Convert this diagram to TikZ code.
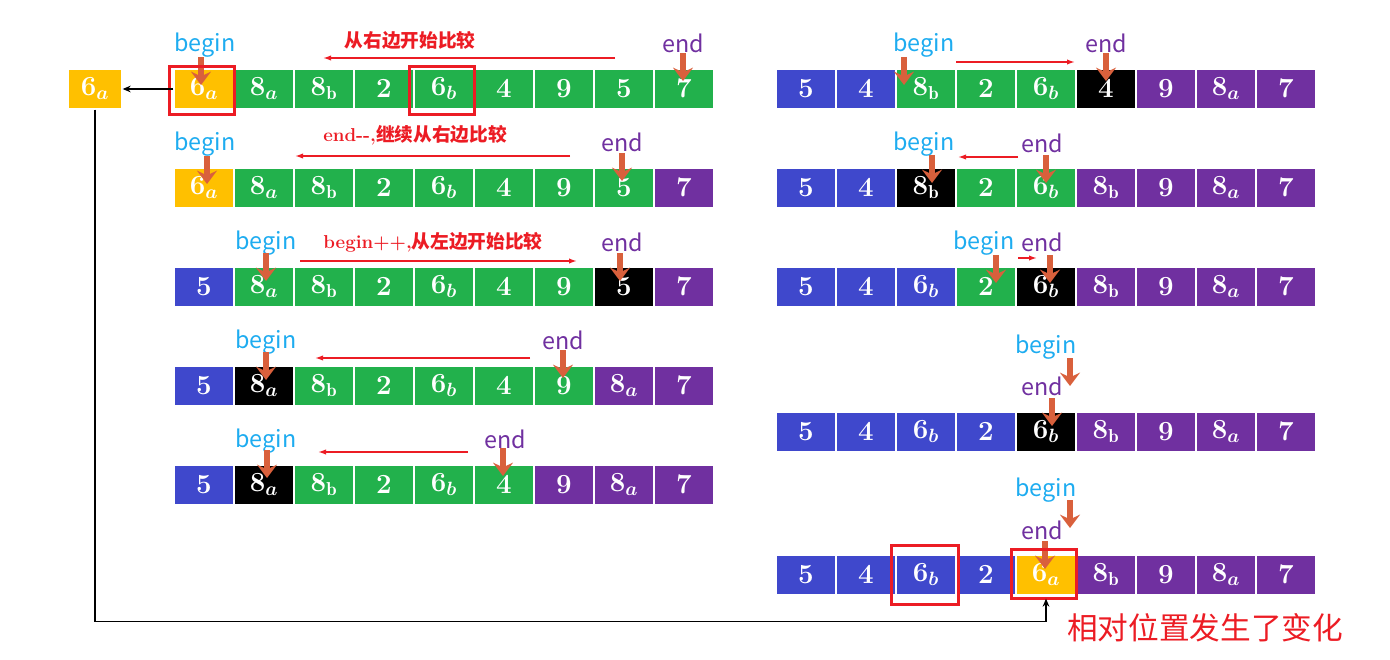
\documentclass[tikz,border=0pt]{standalone}
\usepackage{fontspec}
\newfontfamily\cjk{Noto Sans CJK SC}
\usetikzlibrary{arrows.meta}
\definecolor{cg}{RGB}{34,177,76}
\definecolor{cb}{RGB}{63,72,204}
\definecolor{cp}{RGB}{112,48,160}
\definecolor{cy}{RGB}{255,192,0}
\definecolor{ck}{RGB}{0,0,0}
\definecolor{cbegin}{RGB}{30,172,240}
\definecolor{cptr}{RGB}{217,96,60}
\definecolor{cred}{RGB}{236,28,36}
\tikzset{
  cell/.style={draw=white, line width=1pt, minimum width=45pt, minimum height=30pt,
    inner sep=0pt, text=white, font=\boldmath\fontsize{20}{20}\selectfont},
  lbegin/.style={text=cbegin, font=\cjk\fontsize{17.5}{18}\selectfont},
  lend/.style={text=cp, font=\cjk\fontsize{17.5}{18}\selectfont},
  ptr/.style={draw=cptr, line width=4pt, -{Stealth[width=15pt,length=10pt,inset=3.5pt]}},
  cmp/.style={draw=cred, line width=1.1pt, -{Latex[length=6pt,width=4pt]}},
  note/.style={text=cred, font=\bfseries\fontsize{14}{15}\selectfont},
  hl/.style={draw=cred, line width=2.6pt},
  link/.style={draw=black, line width=1.1pt, -{Stealth[length=6pt,width=5pt]}}
}
\begin{document}
\begin{tikzpicture}[x=0.75pt, y=-0.75pt, every node/.style={inner sep=0pt}]
    \useasboundingbox (0,0) rectangle (1390,660);
    % left column
    \foreach \v/\c [count=\i] in {6_a/cy,8_a/cg,8_\mathrm{b}/cg,2/cg,6_b/cg,4/cg,9/cg,5/cg,7/cg}
      \node[cell, fill=\c] (L1-\i) at (144+60*\i,89) {$\v$};
    \foreach \v/\c [count=\i] in {6_a/cy,8_a/cg,8_\mathrm{b}/cg,2/cg,6_b/cg,4/cg,9/cg,5/cg,7/cp}
      \node[cell, fill=\c] (L2-\i) at (144+60*\i,188) {$\v$};
    \foreach \v/\c [count=\i] in {5/cb,8_a/cg,8_\mathrm{b}/cg,2/cg,6_b/cg,4/cg,9/cg,5/ck,7/cp}
      \node[cell, fill=\c] (L3-\i) at (144+60*\i,287) {$\v$};
    \foreach \v/\c [count=\i] in {5/cb,8_a/ck,8_\mathrm{b}/cg,2/cg,6_b/cg,4/cg,9/cg,8_a/cp,7/cp}
      \node[cell, fill=\c] (L4-\i) at (144+60*\i,386) {$\v$};
    \foreach \v/\c [count=\i] in {5/cb,8_a/ck,8_\mathrm{b}/cg,2/cg,6_b/cg,4/cg,9/cp,8_a/cp,7/cp}
      \node[cell, fill=\c] (L5-\i) at (144+60*\i,485) {$\v$};
    % right column
    \foreach \v/\c [count=\i] in {5/cb,4/cb,8_\mathrm{b}/cg,2/cg,6_b/cg,4/ck,9/cp,8_a/cp,7/cp}
      \node[cell, fill=\c] (R1-\i) at (746+60*\i,89) {$\v$};
    \foreach \v/\c [count=\i] in {5/cb,4/cb,8_\mathrm{b}/ck,2/cg,6_b/cg,8_\mathrm{b}/cp,9/cp,8_a/cp,7/cp}
      \node[cell, fill=\c] (R2-\i) at (746+60*\i,188) {$\v$};
    \foreach \v/\c [count=\i] in {5/cb,4/cb,6_b/cb,2/cg,6_b/ck,8_\mathrm{b}/cp,9/cp,8_a/cp,7/cp}
      \node[cell, fill=\c] (R3-\i) at (746+60*\i,287) {$\v$};
    \foreach \v/\c [count=\i] in {5/cb,4/cb,6_b/cb,2/cb,6_b/ck,8_\mathrm{b}/cp,9/cp,8_a/cp,7/cp}
      \node[cell, fill=\c] (R4-\i) at (746+60*\i,432) {$\v$};
    \foreach \v/\c [count=\i] in {5/cb,4/cb,6_b/cb,2/cb,6_a/cy,8_\mathrm{b}/cp,9/cp,8_a/cp,7/cp}
      \node[cell, fill=\c] (R5-\i) at (746+60*\i,575) {$\v$};
    % the saved key
    \node[cell, fill=cy, minimum width=40.5pt] (key) at (95,89) {$6_a$};
    % begin / end labels
    \foreach \n/\x/\y in {L1/205/45, L2/205/144, L3/266/243, L4/266/342, L5/266/441,
        R1/924/45, R2/924/144, R3/984/243, R4/1046/347, R5/1046/490}
      \node[lbegin] (b\n) at (\x,\y) {begin};
    \foreach \n/\x/\y in {L1/683/43, L2/622/142, L3/622/242, L4/563/340, L5/505/439,
        R1/1106/43, R2/1042/143, R3/1042/242, R4/1042/386, R5/1042/530}
      \node[lend] (e\n) at (\x,\y) {end};
    % pointers
    \foreach \x/\y in {201/57, 683/53, 207/156, 622/153, 266/253, 620/253, 266/352, 563/350,
        267/450, 503/448, 904/57, 1106/53, 932/155, 1046/155, 996/255, 1050/255,
        1070/358, 1052/398, 1070/500, 1045/541}
      \draw[ptr] (\x,\y) -- ++(0,28);
    % scan directions
    \draw[cmp] (615,58) -- (323,58);
    \draw[cmp] (570,156) -- (295,156);
    \draw[cmp] (300,261) -- (577,261);
    \draw[cmp] (530,358) -- (315,358);
    \draw[cmp] (468,452) -- (318,452);
    \draw[cmp] (956,62) -- (1075,62);
    \draw[cmp] (1018,157) -- (958,157);
    \draw[cmp] (1018,258) -- (1037,258);
    \node[note] (n1) at (410,40) {\cjk 从右边开始比较};
    \node[note] (n2) at (415,135) {end-{}-,\cjk 继续从右边比较};
    \node[note] (n3) at (433,242) {begin++,\cjk 从左边开始比较};
    % marked cells
    \draw[hl] ([xshift=-3pt,yshift=1.5pt]L1-1.north west) rectangle ([yshift=-3.75pt]L1-1.south east);
    \draw[hl] ([xshift=-3pt,yshift=1.5pt]L1-5.north west) rectangle ([yshift=-3.75pt]L1-5.south east);
    \draw[hl] ([xshift=-3pt,yshift=6.75pt]R5-3.north west) rectangle ([xshift=1.5pt,yshift=-6.75pt]R5-3.south east);
    \draw[hl] ([xshift=-3pt,yshift=3.75pt]R5-5.north west) rectangle ([yshift=-2.25pt]R5-5.south east);
    % key moves
    \draw[link] (L1-1.west) -- (key.east);
    \draw[link] (key.south) |- ([yshift=-19.5pt]R5-5.south) -- ([yshift=-2.25pt]R5-5.south);
    \node[text=cred, font=\cjk\fontsize{23}{24}\selectfont] (chg) at (1205,628) {相对位置发生了变化};
\end{tikzpicture}
\end{document}
